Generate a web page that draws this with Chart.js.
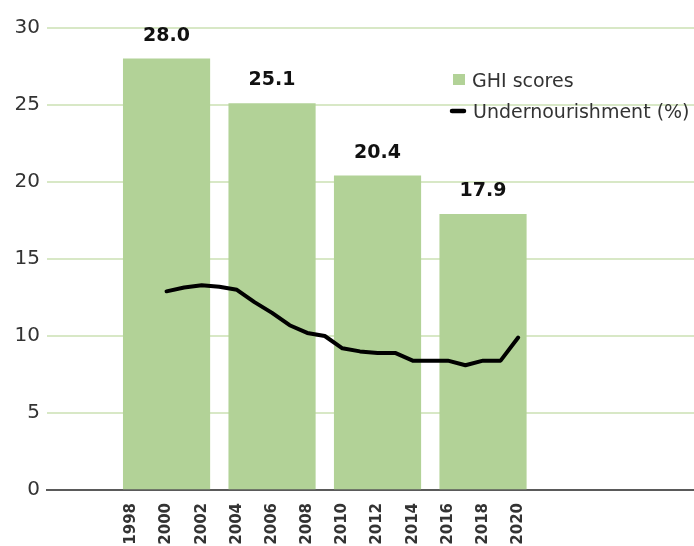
<!DOCTYPE html>
<html>
<head>
<meta charset="utf-8">
<script src="https://cdn.jsdelivr.net/npm/chart.js@4"></script>
<style>
  html, body { margin: 0; padding: 0; background: #fff; overflow: hidden; }
  #wrap { width: 694px; height: 546px; position: relative; }
</style>
</head>
<body>
<div id="wrap"><canvas id="c"></canvas></div>
<script>
// ---- data ----
const tickYears = [1998, 2000, 2002, 2004, 2006, 2008, 2010, 2012, 2014, 2016, 2018, 2020];
const ghiYears = [2000, 2006, 2012, 2018];
const ghiScores = [28.0, 25.1, 20.4, 17.9];
const underYears = [2000, 2001, 2002, 2003, 2004, 2005, 2006, 2007, 2008, 2009, 2010,
                    2011, 2012, 2013, 2014, 2015, 2016, 2017, 2018, 2019, 2020];
const underValues = [12.9, 13.15, 13.3, 13.2, 13.0, 12.2, 11.5, 10.7, 10.2, 10.0, 9.2,
                     9.0, 8.9, 8.9, 8.4, 8.4, 8.4, 8.1, 8.4, 8.4, 9.9];
const seriesNames = ['GHI scores', 'Undernourishment (%)'];

const barColor = '#b2d297';
const gridColor = '#d8e8c6';
const textColor = '#333333';
const FONT = '"DejaVu Sans", Verdana, sans-serif';

const overlay = {
  id: 'overlay',
  afterDraw(chart) {
    const ctx = chart.ctx;
    const meta = chart.getDatasetMeta(0);
    ctx.save();
    // value labels over bars
    ctx.font = 'bold 19px ' + FONT;
    ctx.fillStyle = '#111';
    ctx.textAlign = 'center';
    ctx.textBaseline = 'alphabetic';
    meta.data.forEach((bar, i) => {
      ctx.fillText(ghiScores[i].toFixed(1), bar.x, bar.y - 18);
    });
    // legend
    const ds = chart.data.datasets;
    ctx.textAlign = 'left';
    ctx.font = '19px ' + FONT;
    ctx.fillStyle = ds[0].backgroundColor;
    ctx.fillRect(453, 74, 12, 11);
    ctx.fillStyle = textColor;
    ctx.fillText(ds[0].label, 472, 87);
    ctx.strokeStyle = ds[1].borderColor;
    ctx.lineWidth = 4.5;
    ctx.lineCap = 'round';
    ctx.beginPath();
    ctx.moveTo(452, 111);
    ctx.lineTo(464, 111);
    ctx.stroke();
    ctx.fillStyle = textColor;
    ctx.fillText(ds[1].label, 473, 118);
    ctx.restore();
  }
};

new Chart(document.getElementById('c'), {
  data: {
    datasets: [
      {
        type: 'bar',
        label: seriesNames[0],
        data: ghiYears.map((y, i) => ({ x: y, y: ghiScores[i] })),
        backgroundColor: barColor,
        borderWidth: 0,
        barThickness: 'flex',
        barPercentage: 0.82,
        categoryPercentage: 1.0,
        order: 2
      },
      {
        type: 'line',
        label: seriesNames[1],
        data: underYears.map((y, i) => ({ x: y, y: underValues[i] })),
        borderColor: '#000000',
        borderWidth: 4,
        pointRadius: 0,
        tension: 0,
        borderJoinStyle: 'round',
        borderCapStyle: 'round',
        fill: false,
        order: 1
      }
    ]
  },
  options: {
    responsive: true,
    maintainAspectRatio: false,
    animation: false,
    layout: { padding: { top: 28, right: 0, bottom: 0, left: 0 } },
    plugins: {
      legend: { display: false },
      tooltip: { enabled: false }
    },
    scales: {
      x: {
        type: 'linear',
        min: 1993.2,
        max: 2030,
        offset: false,
        z: 1,
        grid: { display: false, drawTicks: false },
        border: { display: true, color: '#5a5a5a', width: 2 },
        afterBuildTicks(scale) {
          scale.ticks = tickYears.map(v => ({ value: v }));
        },
        afterFit(scale) { scale.height = 56; },
        ticks: {
          autoSkip: false,
          minRotation: 90,
          maxRotation: 90,
          padding: 13,
          color: textColor,
          font: { family: FONT, size: 15, weight: 'bold' },
          callback: (v) => String(v)
        }
      },
      y: {
        min: 0,
        max: 30,
        grid: { color: gridColor, lineWidth: 2, drawTicks: false },
        border: { display: false },
        afterFit(scale) { scale.width = 47; },
        ticks: {
          stepSize: 5,
          padding: 7,
          color: textColor,
          font: { family: FONT, size: 20 }
        }
      }
    }
  },
  plugins: [overlay]
});
</script>
</body>
</html>
